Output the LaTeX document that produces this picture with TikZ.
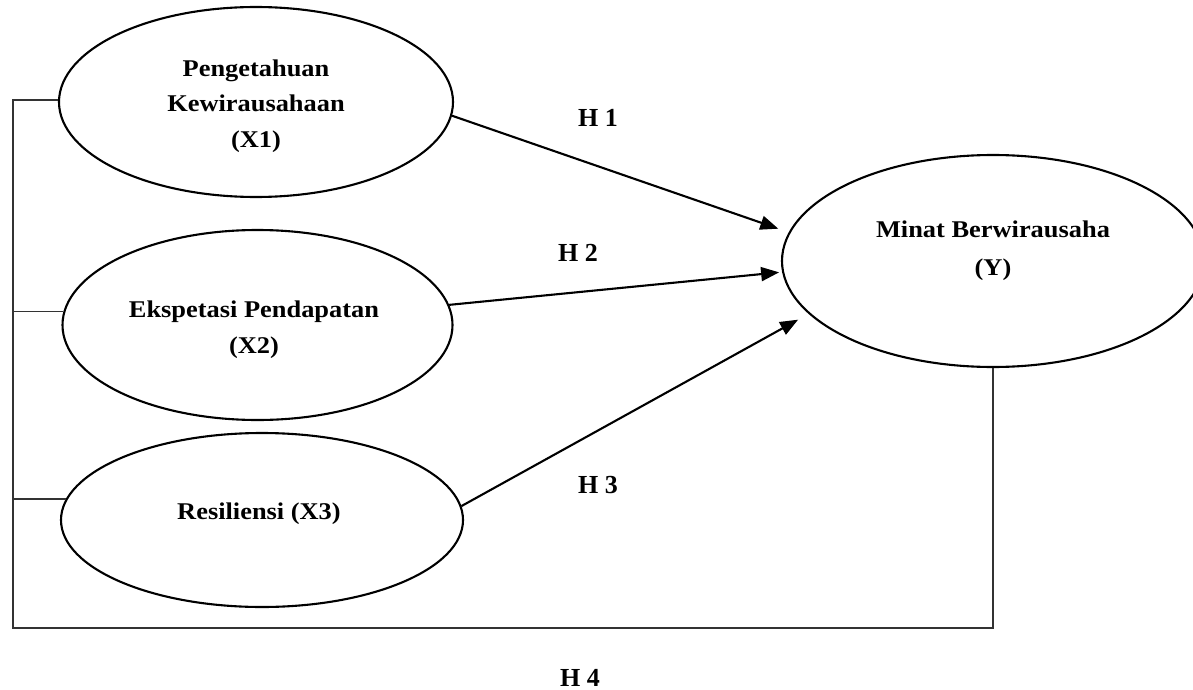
\documentclass[tikz,border=0pt]{standalone}
\usepackage{fontspec}
\setmainfont{Liberation Serif}
\newfontfamily\nodefont{Liberation Serif}[FakeStretch=1.1]
\usetikzlibrary{shapes.geometric,arrows.meta}
\tikzset{
  latent/.style={ellipse, draw, line width=2.1pt, inner sep=0pt},
  lbl/.style={font=\nodefont\bfseries\fontsize{24}{28}\selectfont, anchor=base, inner sep=0pt},
  hlbl/.style={font=\bfseries\fontsize{26}{30}\selectfont, anchor=base, inner sep=0pt},
  link/.style={line width=2.1pt, -{Triangle[length=18pt,width=14pt]}},
  frame/.style={line width=1.8pt, draw=black!80}
}
\begin{document}
\begin{tikzpicture}[x=1pt,y=-1pt]
\clip (0,0) rectangle (1193,690);
% ellipses
\node[latent, minimum width=394pt, minimum height=190pt] (x1) at (256,102) {};
\node[latent, minimum width=390pt, minimum height=190pt] (x2) at (257.5,325) {};
\node[latent, minimum width=402pt, minimum height=174pt] (x3) at (262,520) {};
\node[latent, minimum width=422pt, minimum height=212pt] (y) at (993,261) {};
% texts
\node[lbl] (x1a) at (256,77) {Pengetahuan};
\node[lbl] (x1b) at (256,112) {Kewirausahaan};
\node[lbl] (x1c) at (256,147) {(X1)};
\node[lbl] (x2a) at (254,317) {Ekspetasi Pendapatan};
\node[lbl] (x2b) at (254,353) {(X2)};
\node[lbl] (x3a) at (259,519) {Resiliensi (X3)};
\node[lbl] (ya) at (993,237) {Minat Berwirausaha};
\node[lbl] (yb) at (993,275) {(Y)};
% hypothesis labels
\node[hlbl] (h1) at (598,126) {H 1};
\node[hlbl] (h2) at (578,261) {H 2};
\node[hlbl] (h3) at (598,493) {H 3};
\node[hlbl] (h4) at (580,686) {H 4};
% arrows
\draw[link, shorten >=11pt] (x1.-4.4) -- (y.172.3);
\draw[link, shorten >=3pt] (x2.6.45) -- (y.183.8);
\draw[link, shorten >=12pt] (x3.4.8) -- (y.196);
% bracket
\coordinate (lt) at (13,100);
\coordinate (lb) at (13,628);
\draw[frame] (x1.west |- lt) -- (lt) -- (lb) -| (y.south);
\draw[frame] (x2.176.7) -- (x2.176.7 -| lt);
\draw[frame] (x3.174.9) -- (x3.174.9 -| lt);
\end{tikzpicture}
\end{document}
